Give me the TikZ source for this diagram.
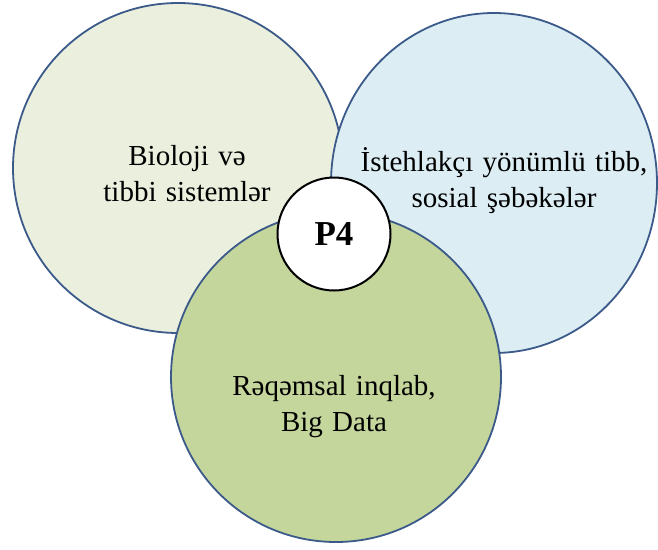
\documentclass[tikz,border=0pt]{standalone}
\usepackage{fontspec}
\setmainfont{Liberation Serif}
\usetikzlibrary{positioning,shapes.geometric}
\definecolor{rimblue}{HTML}{3B5A8A}
\definecolor{biofill}{HTML}{EBEFDD}
\definecolor{usrfill}{HTML}{DCEEF4}
\definecolor{digfill}{HTML}{C4D69C}
\newcommand{\petalfont}{\fontsize{29}{36}\selectfont\spaceskip=0.32em\relax}

\tikzset{
  petal/.style={ellipse, draw=rimblue, line width=1.8pt, inner sep=0pt},
  txt/.style={align=center, font=\petalfont},
}

\begin{document}
\begin{tikzpicture}[x=1pt,y=-1pt]
		\useasboundingbox (0,0) rectangle (658,549);
		% three circles
		\node[petal, fill=biofill, minimum width=330pt, minimum height=330pt] (bio) at (178,168) {};
		\node[petal, fill=usrfill, minimum width=326pt, minimum height=340pt] (usr) at (494,183) {};
		\node[petal, fill=digfill, minimum width=330pt, minimum height=330pt] (dig) at (336,377) {};
		% middle
		\node[circle, draw=black, line width=2pt, fill=white, minimum size=113pt, inner sep=0pt,
		      font=\fontsize{35}{35}\selectfont\bfseries] (p4) at (334,234) {P4};
		% labels
		\node[txt] (biotxt) at (187,174) {Bioloji və\\tibbi sistemlər};
		\node[txt] (usrtxt) at (504,181) {İstehlakçı yönümlü tibb,\\sosial şəbəkələr};
		\node[txt] (digtxt) at (334,407) {Rəqəmsal inqlab,\\Big Data};
\end{tikzpicture}
\end{document}
